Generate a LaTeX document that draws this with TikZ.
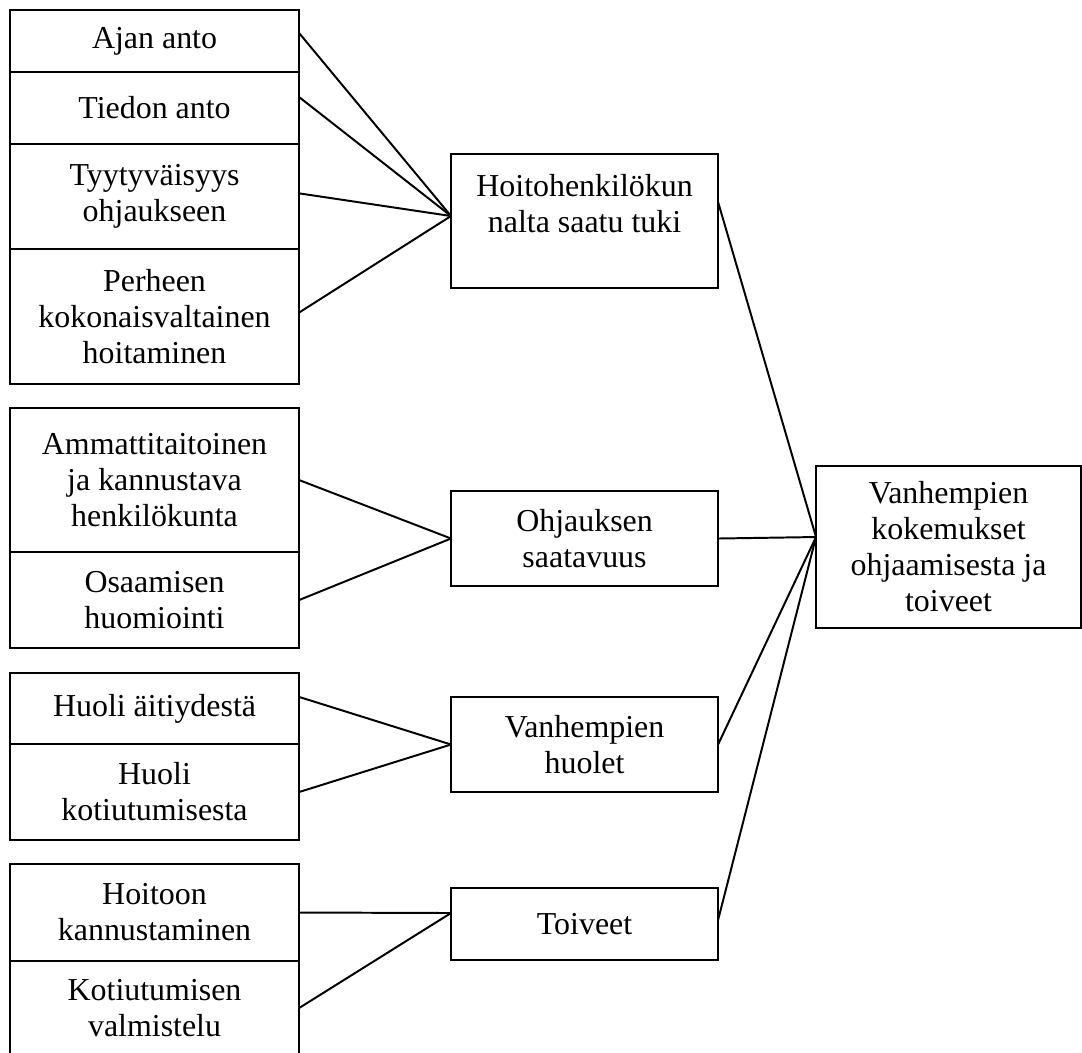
\documentclass[tikz,border=0pt]{standalone}
\usepackage{fontspec}
\setmainfont{Liberation Serif}
\usetikzlibrary{positioning}

\begin{document}
\begin{tikzpicture}[
  x=0.025cm, y=-0.025cm,
  node distance=0pt,
  every node/.style={font=\fontsize{22.7}{25.6}\selectfont},
  box/.style={draw, line width=1.4pt, outer sep=0pt, inner sep=0pt, align=center},
  leftbox/.style={box, minimum width=7.225cm},
  midbox/.style={box, minimum width=6.675cm},
  link/.style={line width=1.4pt}
]
  \clip (0,0) rectangle (1082,1052);
  % left column
  \node[leftbox, minimum height=1.55cm, anchor=north west] (ajan) at (10,10) {Ajan anto};
  \node[leftbox, minimum height=1.8cm, below=of ajan] (tiedon) {Tiedon anto};
  \node[leftbox, minimum height=2.625cm, below=of tiedon] (tyyty) {Tyytyväisyys\\ohjaukseen};
  \node[leftbox, minimum height=3.375cm, below=of tyyty] (perhe) {Perheen\\kokonaisvaltainen\\hoitaminen};
  \node[leftbox, minimum height=3.6cm, anchor=north west] (ammatti) at (10,408) {Ammattitaitoinen\\ja kannustava\\henkilökunta};
  \node[leftbox, minimum height=2.4cm, below=of ammatti] (osaam) {Osaamisen\\huomiointi};
  \node[leftbox, minimum height=1.775cm, anchor=north west] (aitiys) at (10,673) {Huoli äitiydestä};
  \node[leftbox, minimum height=2.4cm, below=of aitiys] (kotiuhuoli) {Huoli\\kotiutumisesta};
  \node[leftbox, minimum height=2.425cm, anchor=north west] (kannust) at (10,864) {Hoitoon\\kannustaminen};
  \node[leftbox, minimum height=2.35cm, below=of kannust] (valmist) {Kotiutumisen\\valmistelu};
  % middle column
  \node[midbox, minimum height=3.35cm, anchor=north west] (tuki) at (451,154) {Hoitohenkilökun\\nalta saatu tuki\\\mbox{}};
  \node[midbox, minimum height=2.375cm, anchor=north west] (saatav) at (451,491) {Ohjauksen\\saatavuus};
  \node[midbox, minimum height=2.375cm, anchor=north west] (huolet) at (451,697) {Vanhempien\\huolet};
  \node[midbox, minimum height=1.8cm, anchor=north west] (toiveet) at (451,888) {Toiveet};
  % right
  \node[box, minimum width=6.625cm, minimum height=4.05cm, anchor=north west] (kokemus) at (816,466) {Vanhempien\\kokemukset\\ohjaamisesta ja\\toiveet};

  \coordinate (tukiIn) at ([yshift=0.125cm]tuki.west);
  \coordinate (toiveetIn) at ([yshift=0.275cm]toiveet.west);
  \coordinate (kokemusIn) at ([yshift=0.25cm]kokemus.west);

  \draw[link] ([yshift=0.2cm]ajan.east) -- (tukiIn);
  \draw[link] ([yshift=0.275cm]tiedon.east) -- (tukiIn);
  \draw[link] ([yshift=0.08cm]tyyty.east) -- (tukiIn);
  \draw[link] ([yshift=0.1cm]perhe.east) -- (tukiIn);
  \draw[link] (ammatti.east) -- (saatav.west);
  \draw[link] (osaam.east) -- (saatav.west);
  \draw[link] ([yshift=0.29cm]aitiys.east) -- (huolet.west);
  \draw[link] (kotiuhuoli.east) -- (huolet.west);
  \draw[link] (kannust.east) -- (toiveetIn);
  \draw[link] (valmist.east) -- (toiveetIn);
  \draw[link] ([yshift=0.475cm]tuki.east) -- (kokemusIn);
  \draw[link] (saatav.east) -- (kokemusIn);
  \draw[link] (huolet.east) -- (kokemusIn);
  \draw[link] ([yshift=0.1cm]toiveet.east) -- (kokemusIn);
\end{tikzpicture}
\end{document}
